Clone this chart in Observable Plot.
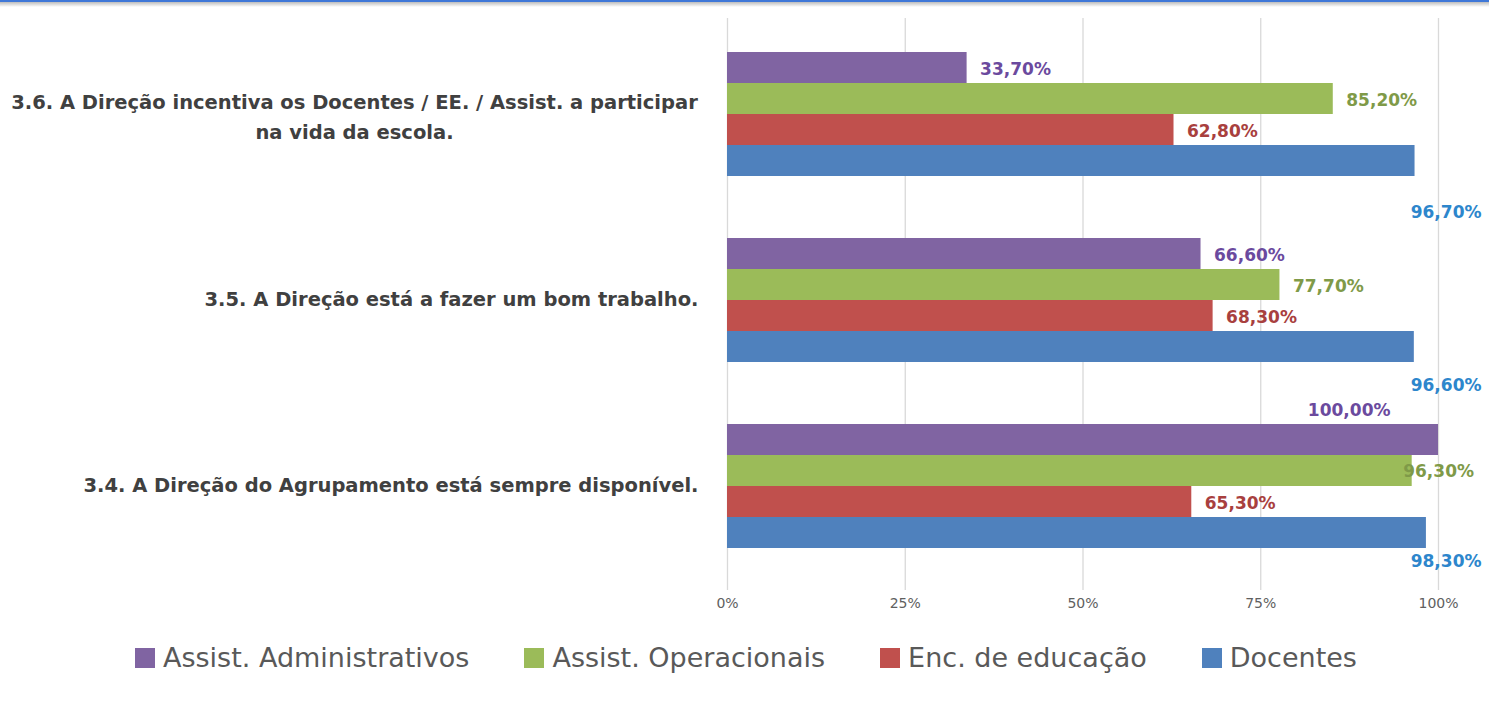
<!DOCTYPE html>
<html>
<head>
<meta charset="utf-8">
<script src="https://cdn.jsdelivr.net/npm/d3@7"></script>
<script src="https://cdn.jsdelivr.net/npm/@observablehq/plot@0.6"></script>
<style>
  html, body { margin: 0; padding: 0; background: #fff; }
  body { width: 1489px; height: 702px; overflow: hidden; font-family: "DejaVu Sans", sans-serif; }
  .topbar { height: 2px; background: #3f78d8; }
  .shadow { height: 5px; background: linear-gradient(#bdbdbd, #ffffff); }
  #grid, #chart { position: absolute; top: 0; left: 0; }
  .legend { position: absolute; top: 642px; left: 135px; display: flex; align-items: center; font-family: "DejaVu Sans", sans-serif; font-size: 27px; color: #595959; }
  .legend .item { display: flex; align-items: center; margin-right: 55px; }
  .legend .sw { width: 20px; height: 20px; margin-right: 8px; }
</style>
</head>
<body>
<div class="topbar"></div>
<div class="shadow"></div>
<div id="grid"></div>
<div id="chart"></div>
<div class="legend" id="legend"></div>
<script>
// ---- data ----
const questions = [
  "3.6. A Direção incentiva os Docentes / EE. / Assist. a participar na vida da escola.",
  "3.5. A Direção está a fazer um bom trabalho.",
  "3.4. A Direção do Agrupamento está sempre disponível."
];
const questionLabels = [
  "3.6. A Direção incentiva os Docentes / EE. / Assist. a participar\nna vida da escola.",
  "3.5. A Direção está a fazer um bom trabalho.",
  "3.4. A Direção do Agrupamento está sempre disponível."
];
const series = ["Assist. Administrativos", "Assist. Operacionais", "Enc. de educação", "Docentes"];
const assistAdministrativos = [33.7, 66.6, 100.0];
const assistOperacionais = [85.2, 77.7, 96.3];
const encEducacao = [62.8, 68.3, 65.3];
const docentes = [96.7, 96.6, 98.3];
const xTicks = [0, 25, 50, 75, 100];

const barColors = ["#8064A2", "#9BBB59", "#C0504D", "#4F81BD"];
const labelColors = ["#6B4A9E", "#7F9A48", "#A8403E", "#2D86CC"];

// ---- table ----
const valuesBySeries = [assistAdministrativos, assistOperacionais, encEducacao, docentes];
const rows = [];
questions.forEach((q, qi) => {
  series.forEach((s, si) => {
    rows.push({q, qi, s, si, v: valuesBySeries[si][qi]});
  });
});
const fmt = v => d3.format(".2f")(v).replace(".", ",") + "%";
const labelFont = {fontFamily: "DejaVu Sans, sans-serif", fontWeight: "bold", fontSize: 17};
const qFont = {fontFamily: "DejaVu Sans, sans-serif", fontWeight: "bold", fontSize: 19.5, fill: "#404040"};

// label placement nudges (layout, not data)
const docDy = [52, 39, 29];

const frame = {
  width: 1489,
  height: 625,
  marginLeft: 727,
  marginRight: 51,
  marginTop: 18,
  marginBottom: 35,
  style: {background: "transparent", overflow: "visible"}
};

// background plot: gridlines + x axis (same x scale settings as the bars)
const gridPlot = Plot.plot({
  ...frame,
  x: {domain: [0, 100], axis: null},
  marks: [
    Plot.ruleX(xTicks, {stroke: "#d9d9d9", strokeWidth: 1.3}),
    Plot.axisX(xTicks, {
      anchor: "bottom", tickSize: 0, tickPadding: 8,
      tickFormat: d => d + "%", fontSize: 14, fill: "#606060", fontFamily: "DejaVu Sans, sans-serif"
    })
  ]
});
document.getElementById("grid").appendChild(gridPlot);

const marks = [
  Plot.barX(rows, {fy: "q", y: "s", x: "v", fill: d => barColors[d.si], inset: 0}),
  Plot.text(rows, {
    filter: d => d.si < 3 && d.v < 95,
    fy: "q", y: "s", x: "v", text: d => fmt(d.v),
    fill: d => labelColors[d.si], textAnchor: "start", dx: 13, dy: 2, ...labelFont
  }),
  Plot.text(rows, {
    filter: d => d.si === 0 && d.v >= 95,
    fy: "q", y: "s", x: "v", text: d => fmt(d.v),
    fill: d => labelColors[d.si], textAnchor: "end", dx: -48, dy: -29, ...labelFont
  }),
  Plot.text(rows, {
    filter: d => d.si === 1 && d.v >= 95,
    fy: "q", y: "s", x: "v", text: d => fmt(d.v),
    fill: d => labelColors[d.si], textAnchor: "start", dx: -9, dy: 1, ...labelFont
  }),
  ...questions.map((q, qi) => Plot.text(rows, {
    filter: d => d.si === 3 && d.qi === qi,
    fy: "q", y: "s", frameAnchor: "right", text: d => fmt(d.v),
    fill: labelColors[3], textAnchor: "end", dx: 43, dy: docDy[qi], ...labelFont
  })),
  Plot.text(rows, {
    filter: d => d.si === 3 && d.qi !== 0,
    fy: "q", frameAnchor: "left", text: d => questionLabels[d.qi],
    textAnchor: "end", dx: -29, ...qFont
  }),
  Plot.text(rows, {
    filter: d => d.si === 3 && d.qi === 0,
    fy: "q", frameAnchor: "left", text: d => questionLabels[d.qi],
    textAnchor: "middle", dx: -373, lineHeight: 1.55, ...qFont
  })
];

const chart = Plot.plot({
  ...frame,
  x: {domain: [0, 100], axis: null},
  y: {domain: series, padding: 0, axis: null},
  fy: {domain: questions, paddingInner: 0.317, paddingOuter: 0.196, align: 0.44, axis: null},
  marks
});
document.getElementById("chart").appendChild(chart);

// legend
const legend = document.getElementById("legend");
series.forEach((s, i) => {
  const item = document.createElement("div");
  item.className = "item";
  const sw = document.createElement("span");
  sw.className = "sw";
  sw.style.background = barColors[i];
  const t = document.createElement("span");
  t.textContent = s;
  item.appendChild(sw);
  item.appendChild(t);
  legend.appendChild(item);
});
</script>
</body>
</html>
